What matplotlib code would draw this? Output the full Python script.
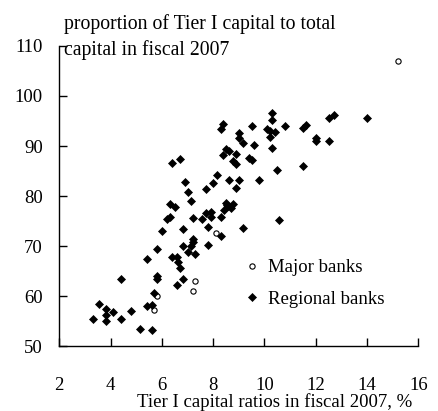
import matplotlib
matplotlib.use("Agg")
import matplotlib.pyplot as plt

plt.rcParams['font.family'] = ['Liberation Serif', 'DejaVu Serif']

# Tier I capital ratio (%), share of Tier I in total capital (%)
regional_x = [3.33, 3.54, 3.83, 3.83, 3.83, 4.11, 4.39, 4.39, 4.81, 5.14,
              5.63, 5.42, 5.63, 5.71, 5.43, 5.82, 5.82, 5.82, 6.01, 6.21,
              6.32, 6.32, 6.52, 6.41, 6.71, 6.41, 6.59, 6.62, 6.71, 6.59,
              6.84, 6.82, 6.81, 6.89, 7.02, 7.12, 7.03, 7.14, 7.20, 7.23,
              7.23, 7.30,
              7.55, 7.72, 7.72, 7.81, 7.81, 7.92, 7.92, 8.01, 8.14, 8.29,
              8.29, 8.29, 8.40, 8.40, 8.50, 8.61, 8.63, 8.42, 8.50, 8.59,
              8.68, 8.79, 8.55, 8.89, 8.79, 8.89, 8.89, 9.02, 9.02, 9.02,
              9.18, 9.18, 9.41, 9.53, 9.53, 9.59, 9.80, 10.09, 10.22, 10.42,
              10.22, 10.30, 10.30, 10.30, 10.50, 10.58, 10.80, 11.49, 11.52, 11.62,
              12.01, 12.01, 12.53, 12.71, 12.53, 13.99]
regional_y = [55.4, 58.4, 57.3, 56.1, 55.0, 56.7, 55.4, 63.4, 56.9, 53.3,
              53.1, 58.0, 58.2, 60.5, 67.4, 63.9, 63.4, 69.3, 72.9, 75.3,
              75.7, 78.4, 77.7, 86.5, 87.3, 67.7, 67.7, 66.7, 65.5, 62.1,
              63.4, 73.3, 69.9, 82.7, 80.7, 79.0, 68.7, 69.9, 70.7, 71.4,
              75.6, 68.4,
              75.3, 81.3, 76.5, 73.7, 70.2, 76.7, 75.7, 82.5, 84.1, 75.7,
              71.9, 93.3, 94.4, 88.1, 89.4, 88.9, 83.2, 77.2, 78.5, 78.0,
              77.5, 78.4, 78.2, 88.4, 86.9, 86.4, 81.5, 83.2, 92.5, 91.5,
              90.5, 73.5, 87.5, 87.1, 94.0, 90.2, 83.2, 93.3, 92.9, 92.7,
              91.7, 96.5, 95.2, 89.5, 85.1, 75.2, 94.0, 85.9, 93.5, 94.2,
              91.5, 90.9, 95.6, 96.1, 90.9, 95.6]

major_x = [5.82, 5.69, 8.11, 7.29, 7.20, 15.20]
major_y = [59.9, 57.1, 72.5, 62.9, 61.0, 107.0]

xticks = [2, 4, 6, 8, 10, 12, 14, 16]
yticks = [50, 60, 70, 80, 90, 100, 110]

W, H = 438, 411
fig = plt.figure(figsize=(W / 100, H / 100), dpi=100)
ax = fig.add_axes([59.3 / W, 1 - 346 / H, (418.3 - 59.3) / W, (346 - 46) / H])

ax.plot(major_x, major_y, linestyle='none', marker='o', ms=3.8,
        mfc='white', mec='black', mew=0.8, label='Major banks')
ax.plot(regional_x, regional_y, linestyle='none', marker='D', ms=3.6,
        mfc='black', mec='black', mew=0.5, label='Regional banks')

ax.set_xlim(2, 16)
ax.set_ylim(50, 110)
ax.set_xticks(xticks)
ax.set_yticks(yticks)
ax.spines['top'].set_visible(False)
ax.spines['right'].set_visible(False)
for s in ('left', 'bottom'):
    ax.spines[s].set_linewidth(1.0)
ax.tick_params(axis='both', direction='in', length=6, width=1.0,
               labelsize=13.5, colors='black')
ax.tick_params(axis='x', pad=22)
ax.tick_params(axis='y', pad=12)

# legend sits inside the plot, lower right of the cloud
ax.legend(loc='upper left', bbox_to_anchor=(246 / W, 1 - 259 / H),
          bbox_transform=fig.transFigure, frameon=False, fontsize=13.5,
          handlelength=0.6, handletextpad=0.6, labelspacing=0.78,
          borderpad=0, borderaxespad=0, numpoints=1)

fig.text(64.5 / W, 1 - 29.5 / H, 'proportion of Tier I capital to total',
         fontsize=14.2, ha='left', va='baseline')
fig.text(64.5 / W, 1 - 54.5 / H, 'capital in fiscal 2007',
         fontsize=14.2, ha='left', va='baseline')
fig.text(412 / W, 1 - 407 / H, 'Tier I capital ratios in fiscal 2007, %',
         fontsize=13.5, ha='right', va='baseline')

fig.savefig('out.png', dpi=100)
